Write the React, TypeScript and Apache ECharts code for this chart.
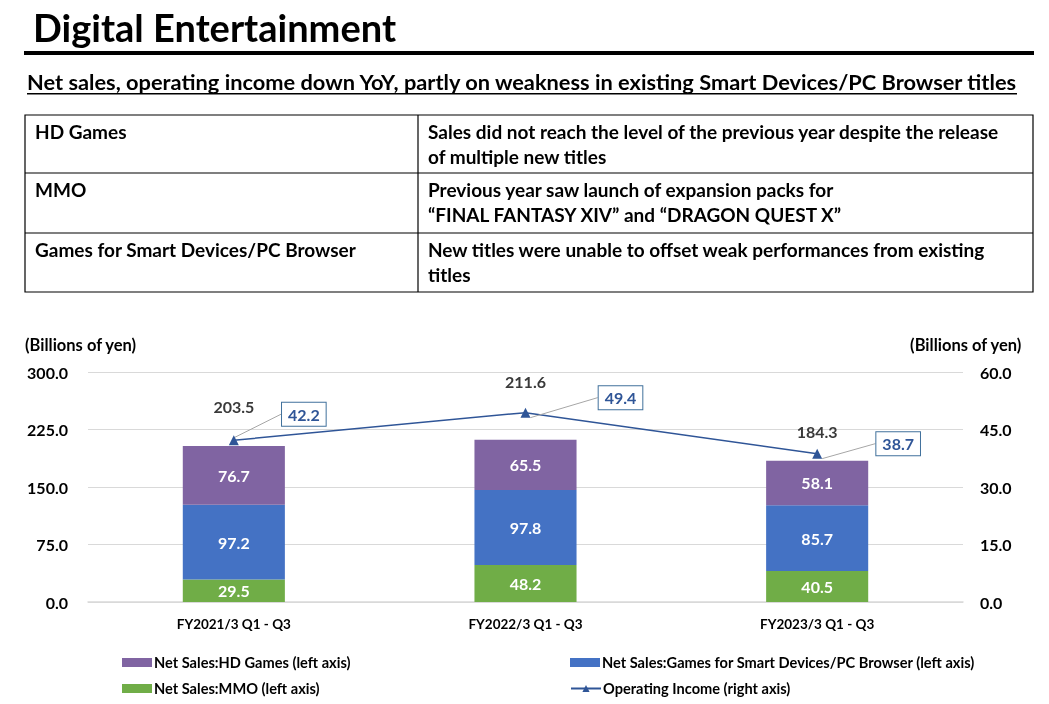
import React, { useEffect, useRef } from "react";
import * as echarts from "echarts";

const categories = ["FY2021/3 Q1 - Q3", "FY2022/3 Q1 - Q3", "FY2023/3 Q1 - Q3"];
const mmoSales = [29.5, 48.2, 40.5];
const smartDeviceSales = [97.2, 97.8, 85.7];
const hdGameSales = [76.7, 65.5, 58.1];
const totalSales = [203.5, 211.6, 184.3];
const operatingIncome = [42.2, 49.4, 38.7];

const leftAxis = { min: 0, max: 300, interval: 75 };
const rightAxis = { min: 0, max: 60, interval: 15 };

const seriesNames = {
  hd: "Net Sales:HD Games (left axis)",
  smart: "Net Sales:Games for Smart Devices/PC Browser (left axis)",
  mmo: "Net Sales:MMO (left axis)",
  op: "Operating Income (right axis)",
};

const tableRows = [
  ["HD Games", ["Sales did not reach the level of the previous year despite the release", "of multiple new titles"]],
  ["MMO", ["Previous year saw launch of expansion packs for", "\u201cFINAL FANTASY XIV\u201d and \u201cDRAGON QUEST X\u201d"]],
  ["Games for Smart Devices/PC Browser", ["New titles were unable to offset weak performances from existing", "titles"]],
] as [string, string[]][];

const FONT = "Lato, 'Open Sans', sans-serif";

// layout offsets (pixels) for labels
const totalLabelDy = [-39, -58, -29];
const opLabelShift = [
  [70, -26],
  [95, -15],
  [81, -10],
];

export default function App() {
  const ref = useRef<HTMLDivElement>(null);
  useEffect(() => {
    document.body.style.margin = "0";
    const chart = echarts.init(ref.current!, null, { renderer: "svg" });

    const tableTop = 115;
    const rowBounds = [115, 173, 233, 292];
    const tableLeft = 25;
    const tableRight = 1033;
    const colX = 418;
    const graphics: any[] = [
      {
        type: "text",
        left: 33,
        top: 8,
        style: { text: "Digital Entertainment", font: `bold 38px ${FONT}`, fill: "#000" },
      },
      { type: "rect", shape: { x: 24, y: 51, width: 1010, height: 4 }, style: { fill: "#000" } },
      {
        type: "text",
        left: 27,
        top: 70,
        style: {
          text: "Net sales, operating income down YoY, partly on weakness in existing Smart Devices/PC Browser titles",
          font: `bold 21.8px ${FONT}`,
          fill: "#000",
        },
      },
      { type: "rect", shape: { x: 27, y: 93, width: 990, height: 1.5 }, style: { fill: "#000" } },
      {
        type: "rect",
        shape: { x: tableLeft, y: tableTop, width: tableRight - tableLeft, height: 292 - tableTop },
        style: { fill: "none", stroke: "#000", lineWidth: 1.2 },
      },
      { type: "line", shape: { x1: colX, y1: tableTop, x2: colX, y2: 292 }, style: { stroke: "#000", lineWidth: 1.2 } },
      { type: "line", shape: { x1: tableLeft, y1: 173, x2: tableRight, y2: 173 }, style: { stroke: "#000", lineWidth: 1.2 } },
      { type: "line", shape: { x1: tableLeft, y1: 233, x2: tableRight, y2: 233 }, style: { stroke: "#000", lineWidth: 1.2 } },
      {
        type: "text",
        left: 25,
        top: 336,
        style: { text: "(Billions of yen)", font: `bold 16.5px ${FONT}`, fill: "#000" },
      },
      {
        type: "text",
        right: 27,
        top: 336,
        style: { text: "(Billions of yen)", font: `bold 16.5px ${FONT}`, fill: "#000" },
      },
    ];
    tableRows.forEach(([head, lines], i) => {
      const top = rowBounds[i] + 4;
      graphics.push({
        type: "text",
        left: 35,
        top,
        style: { text: head, font: `bold 19px ${FONT}`, fill: "#000", lineHeight: 25 },
      });
      graphics.push({
        type: "text",
        left: 428,
        top,
        style: { text: lines.join("\n"), font: `bold 19px ${FONT}`, fill: "#000", lineHeight: 25 },
      });
    });

    const labelFont = { fontFamily: FONT, fontWeight: "bold" as const };
    const legendBase = {
      itemWidth: 30,
      itemHeight: 9,
      itemGap: 0,
      selectedMode: false,
      textStyle: { ...labelFont, fontSize: 14.6, color: "#000", padding: [0, 0, 0, -3] },
    };

    chart.setOption({
      animation: false,
      textStyle: { fontFamily: FONT },
      graphic: graphics,
      grid: { left: 88, right: 86, top: 372, bottom: 102 },
      legend: [
        { ...legendBase, left: 117, top: 650, data: [{ name: seriesNames.hd, icon: "rect" }] },
        { ...legendBase, left: 117, top: 676, data: [{ name: seriesNames.mmo, icon: "rect" }] },
        { ...legendBase, left: 565, top: 650, data: [{ name: seriesNames.smart, icon: "rect" }] },
        { ...legendBase, left: 565, top: 676, data: [{ name: seriesNames.op }] },
      ],
      xAxis: {
        type: "category",
        data: categories,
        axisTick: { show: false },
        axisLine: { lineStyle: { color: "#D9D9D9", width: 1.5 } },
        axisLabel: { ...labelFont, fontSize: 13.5, color: "#000", margin: 15 },
      },
      yAxis: [
        {
          type: "value",
          ...leftAxis,
          axisLabel: { ...labelFont, fontSize: 16, color: "#000", margin: 20, formatter: (v: number) => v.toFixed(1) },
          splitLine: { lineStyle: { color: "#D9D9D9", width: 1.2 } },
          axisLine: { show: false },
          axisTick: { show: false },
        },
        {
          type: "value",
          ...rightAxis,
          position: "right",
          axisLabel: { ...labelFont, fontSize: 16, color: "#000", margin: 17, formatter: (v: number) => v.toFixed(1) },
          splitLine: { show: false },
          axisLine: { show: false },
          axisTick: { show: false },
        },
      ],
      series: [
        {
          name: seriesNames.mmo,
          type: "bar",
          stack: "sales",
          barWidth: "35%",
          data: mmoSales,
          itemStyle: { color: "#70AD47" },
          label: { show: true, position: "inside", color: "#fff", ...labelFont, fontSize: 16, formatter: (p: any) => p.value.toFixed(1) },
        },
        {
          name: seriesNames.smart,
          type: "bar",
          stack: "sales",
          data: smartDeviceSales,
          itemStyle: { color: "#4472C4" },
          label: { show: true, position: "inside", color: "#fff", ...labelFont, fontSize: 16, formatter: (p: any) => p.value.toFixed(1) },
        },
        {
          name: seriesNames.hd,
          type: "bar",
          stack: "sales",
          data: hdGameSales,
          itemStyle: { color: "#8064A2" },
          label: { show: true, position: "inside", color: "#fff", ...labelFont, fontSize: 16, formatter: (p: any) => p.value.toFixed(1) },
        },
        {
          name: "Total",
          type: "scatter",
          data: totalSales,
          symbolSize: 0,
          silent: true,
          itemStyle: { color: "#333", opacity: 1 },
          label: {
            show: true,
            position: "inside",
            color: "#3a3a3a",
            ...labelFont,
            fontSize: 16,
            formatter: (p: any) => p.value.toFixed(1),
          },
          labelLayout: (p: any) => ({ dy: totalLabelDy[p.dataIndex] }),
          z: 5,
        },
        {
          name: seriesNames.op,
          type: "line",
          yAxisIndex: 1,
          data: operatingIncome,
          symbol: "triangle",
          symbolSize: 10,
          lineStyle: { color: "#2F5597", width: 1.5 },
          itemStyle: { color: "#2F5597" },
          label: {
            show: true,
            position: "inside",
            color: "#2F5597",
            ...labelFont,
            fontSize: 16,
            backgroundColor: "#fff",
            borderColor: "#41719C",
            borderWidth: 1,
            padding: [4, 6, 3, 6],
            formatter: (p: any) => p.value.toFixed(1),
          },
          labelLine: { show: true, lineStyle: { color: "#A6A6A6", width: 1 } },
          labelLayout: (p: any) => ({ dx: opLabelShift[p.dataIndex][0], dy: opLabelShift[p.dataIndex][1] }),
          z: 6,
        },
      ],
    });
    return () => chart.dispose();
  }, []);
  return <div ref={ref} style={{ position: "fixed", left: 0, top: 0, width: 1049, height: 704 }} />;
}
